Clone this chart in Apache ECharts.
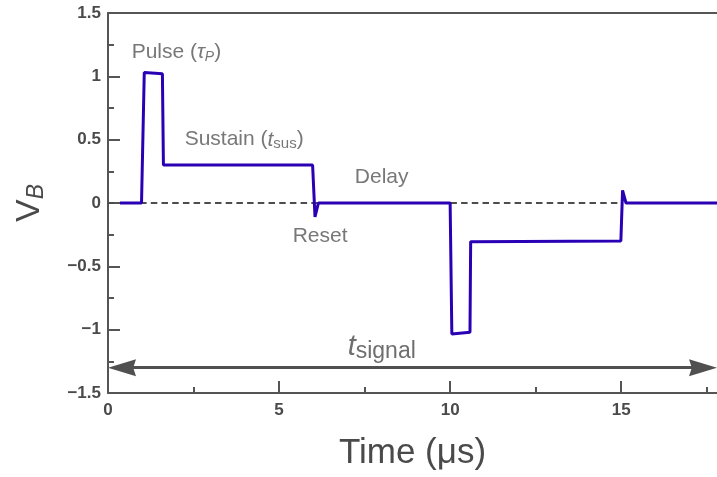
<!DOCTYPE html>
<html>
<head>
<meta charset="utf-8">
<script src="https://cdn.jsdelivr.net/npm/echarts@6/dist/echarts.min.js"></script>
<style>
  html, body { margin: 0; padding: 0; background: #fff; }
  #container { width: 717px; height: 477px; }
</style>
</head>
<body>
<div id="container"></div>
<script>
// signal V_B(t)
var times = [0.35, 0.98, 1.06, 1.59, 1.62, 5.98, 6.05, 6.15, 10.0, 10.05, 10.58, 10.6, 14.99, 15.04, 15.14, 17.8];
var volts = [0, 0, 1.03, 1.02, 0.3, 0.3, -0.11, 0, 0, -1.035, -1.02, -0.305, -0.3, 0.1, 0, 0];

// dashed zero reference and t_signal arrow
var zeroLine = [[0, 0], [15, 0]];
var arrowY = -1.3;
var arrowEnds = [0, 17.8];

// axes
var xMin = 0, xMax = 17.8;
var xMajor = [0, 5, 10, 15];
var xMinor = [2.5, 7.5, 12.5, 17.5];
var yMin = -1.5, yMax = 1.5, yStep = 0.5;

// annotations [t, v]
var notePos = [[2.0, 1.19], [3.98, 0.5], [8.0, 0.2], [6.2, -0.26], [8.0, -1.135]];
var noteText = [
  '{n|Pulse }{n|(}{it|τ}{sub|P}{n|)}',
  '{n|Sustain }{n|(}{it|t}{subr|sus}{n|)}',
  '{n|Delay}',
  '{n|Reset}',
  '{bt|t}{sig|signal}'
];

var fam = '"Liberation Sans", Arial, Helvetica, sans-serif';
var grey = '#555555';
var labGrey = '#4a4a4a';

var dom = document.getElementById('container');
var myChart = echarts.init(dom, null, { renderer: 'canvas' });

var signal = [];
for (var i = 0; i < times.length; i++) {
  signal.push([times[i], volts[i]]);
}

var notes = [];
for (var k = 0; k < notePos.length; k++) {
  notes.push({ value: notePos[k], label: { formatter: noteText[k] } });
}

// custom arrow heads sit centred on the end points, pull them in by half a head
var headLen = 28;
var pxPerUnit = (717 - 108) / (xMax - xMin);
var inset = headLen / 2 / pxPerUnit;
var head = 'path://M50,0 L100,280 L50,252 L0,280 Z';

var option = {
  animation: false,
  backgroundColor: '#fff',
  grid: { left: 108, right: 0, top: 13, bottom: 84 },
  xAxis: [{
    type: 'value', min: xMin, max: xMax,
    axisLine: { onZero: false, lineStyle: { color: grey, width: 2 } },
    axisTick: { inside: true, length: 12, customValues: xMajor, lineStyle: { color: grey, width: 2 } },
    axisLabel: { customValues: xMajor, margin: 9, color: labGrey, fontWeight: 'bold', fontSize: 17, fontFamily: fam },
    splitLine: { show: false },
    name: 'Time (μs)', nameLocation: 'middle', nameGap: 43,
    nameTextStyle: { fontSize: 35, color: labGrey, fontFamily: fam }
  }, {
    type: 'value', min: xMin, max: xMax, position: 'bottom',
    axisLine: { show: false, onZero: false },
    axisTick: { inside: true, length: 6, customValues: xMinor, lineStyle: { color: grey, width: 2 } },
    axisLabel: { show: false },
    splitLine: { show: false }
  }, {
    type: 'value', min: xMin, max: xMax, position: 'top',
    axisLine: { show: true, onZero: false, lineStyle: { color: grey, width: 2 } },
    axisTick: { show: false }, axisLabel: { show: false }, splitLine: { show: false }
  }],
  yAxis: {
    type: 'value', min: yMin, max: yMax, interval: yStep,
    axisLine: { show: true, onZero: false, lineStyle: { color: grey, width: 2 } },
    axisTick: { show: true, inside: true, length: 12, lineStyle: { color: grey, width: 2 } },
    minorTick: { show: true, splitNumber: 2, length: 6, lineStyle: { color: grey, width: 2 } },
    splitLine: { show: false },
    axisLabel: {
      margin: 7, color: labGrey, fontWeight: 'bold', fontSize: 17, fontFamily: fam,
      formatter: function (v) { return String(v).replace('-', '\u2212'); }
    },
    name: '{v|V}{b|B}', nameLocation: 'middle', nameGap: 60, nameRotate: 90,
    nameTextStyle: {
      rich: {
        v: { fontSize: 34, color: labGrey, fontFamily: fam },
        b: { fontSize: 23, color: labGrey, fontFamily: fam, fontStyle: 'italic', verticalAlign: 'bottom', padding: [14, 0, 0, 0] }
      }
    }
  },
  series: [{
    type: 'line', name: 'zero', data: zeroLine, showSymbol: false, silent: true, z: 1,
    lineStyle: { color: '#4d4d4d', width: 2.2, type: [6.5, 4.2] }
  }, {
    type: 'line', name: 'signal', data: signal, showSymbol: false, z: 3,
    lineStyle: { color: '#2a00b4', width: 3 },
    markLine: {
      silent: true, animation: false,
      symbol: [head, head],
      symbolSize: [17, headLen],
      lineStyle: { color: '#505050', width: 3, type: 'solid' },
      itemStyle: { color: '#505050' },
      label: { show: false },
      emphasis: { disabled: true },
      data: [[{ coord: [arrowEnds[0] + inset, arrowY] }, { coord: [arrowEnds[1] - inset, arrowY] }]]
    }
  }, {
    type: 'scatter', name: 'notes', data: notes, symbolSize: 0, silent: true, z: 4,
    label: {
      show: true, position: [0, 0], align: 'center', verticalAlign: 'middle',
      rich: {
        n: { fontSize: 21, color: grey, fontFamily: fam, lineHeight: 24 },
        it: { fontSize: 21, color: grey, fontFamily: fam, fontStyle: 'italic', lineHeight: 24 },
        sub: { fontSize: 14, color: grey, fontFamily: fam, fontStyle: 'italic', verticalAlign: 'bottom', lineHeight: 14, padding: [10, 0, 0, 0] },
        subr: { fontSize: 15, color: grey, fontFamily: fam, verticalAlign: 'bottom', lineHeight: 14, padding: [10, 0, 0, 0] },
        bt: { fontSize: 29, color: labGrey, fontFamily: fam, fontStyle: 'italic', lineHeight: 32 },
        sig: { fontSize: 23, color: labGrey, fontFamily: fam, verticalAlign: 'bottom', lineHeight: 22, padding: [12, 0, 0, 0] }
      }
    }
  }]
};

if (option && typeof option === 'object') {
  myChart.setOption(option, true);
}
</script>
</body>
</html>
